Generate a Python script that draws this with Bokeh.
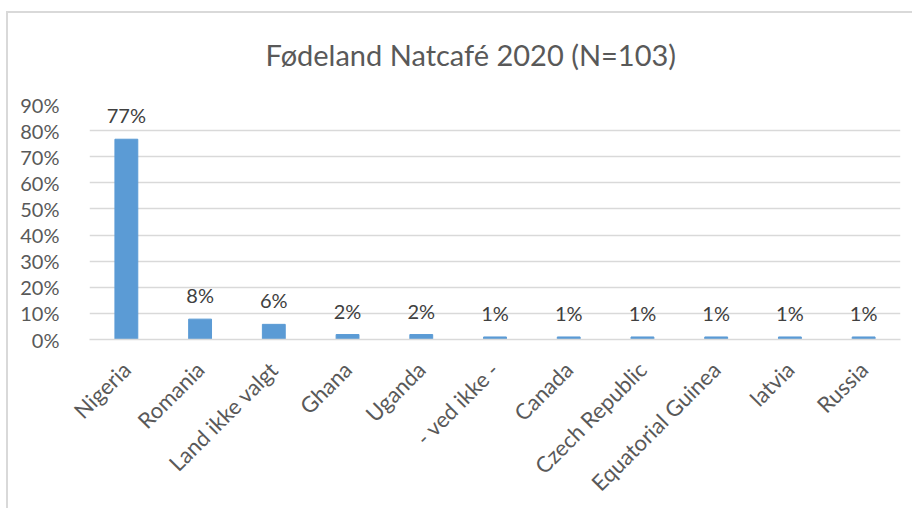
from bokeh.plotting import figure
from bokeh.models import ColumnDataSource, NumeralTickFormatter, FixedTicker, Title, Range1d
from bokeh.core.properties import value
from bokeh.embed import file_html
from bokeh.resources import INLINE
import math

categories = ["Nigeria", "Romania", "Land ikke valgt", "Ghana", "Uganda", "- ved ikke -",
              "Canada", "Czech Republic", "Equatorial Guinea", "latvia", "Russia"]
shares = [0.767, 0.078, 0.058, 0.019, 0.019, 0.0097, 0.0097, 0.0097, 0.0097, 0.0097, 0.0097]
labels = ["77%", "8%", "6%", "2%", "2%", "1%", "1%", "1%", "1%", "1%", "1%"]
y_ticks = [0, 0.1, 0.2, 0.3, 0.4, 0.5, 0.6, 0.7, 0.8, 0.9]
title_text = "Fødeland Natcafé 2020 (N=103)"

FONT = "Lato"
GREY = "#595959"

src = ColumnDataSource(dict(cat=categories, val=shares, lab=labels))

border_bg = ("linear-gradient(#d9d9d9,#d9d9d9) 6px 11px / calc(100% - 6px) 2px no-repeat, "
             "linear-gradient(#d9d9d9,#d9d9d9) 6px 11px / 2px calc(100% - 11px) no-repeat, white")

p = figure(x_range=categories, y_range=Range1d(0, 0.9), width=912, height=508,
           output_backend="svg", toolbar_location=None,
           min_border_left=89, min_border_right=12, min_border_top=104, min_border_bottom=167,
           styles={"background": border_bg})
p.outline_line_color = None
p.background_fill_color = None
p.border_fill_color = None

t = Title(text=title_text, align="left", offset=176, text_font=FONT,
          text_font_size="29px", text_color=GREY, text_font_style="normal", standoff=66)
p.add_layout(t, "above")

p.vbar(x="cat", top="val", width=0.31, source=src, color="#5B9BD5")
p.text(x="cat", y="val", text="lab", source=src, text_align="center", text_baseline="bottom",
       y_offset=-12, text_font=value(FONT), text_font_size="20px", text_color="#404040")

p.yaxis.ticker = FixedTicker(ticks=y_ticks)
p.yaxis.formatter = NumeralTickFormatter(format="0%")
p.yaxis.axis_line_color = None
p.yaxis.major_tick_line_color = None
p.yaxis.minor_tick_line_color = None
p.yaxis.major_label_standoff = 24
p.yaxis.major_label_text_font = FONT
p.yaxis.major_label_text_font_size = "20px"
p.yaxis.major_label_text_color = GREY

p.xaxis.axis_line_color = "#d9d9d9"
p.xaxis.axis_line_width = 1.5
p.xaxis.major_tick_line_color = None
p.xaxis.major_label_orientation = math.pi / 4
p.xaxis.major_label_standoff = 20
p.xaxis.major_label_text_font = FONT
p.xaxis.major_label_text_font_size = "22px"
p.xaxis.major_label_text_color = GREY

p.xgrid.grid_line_color = None
p.ygrid.grid_line_color = "#d9d9d9"
p.ygrid.grid_line_width = 1.5

open("out.html", "w").write(file_html(p, INLINE))
